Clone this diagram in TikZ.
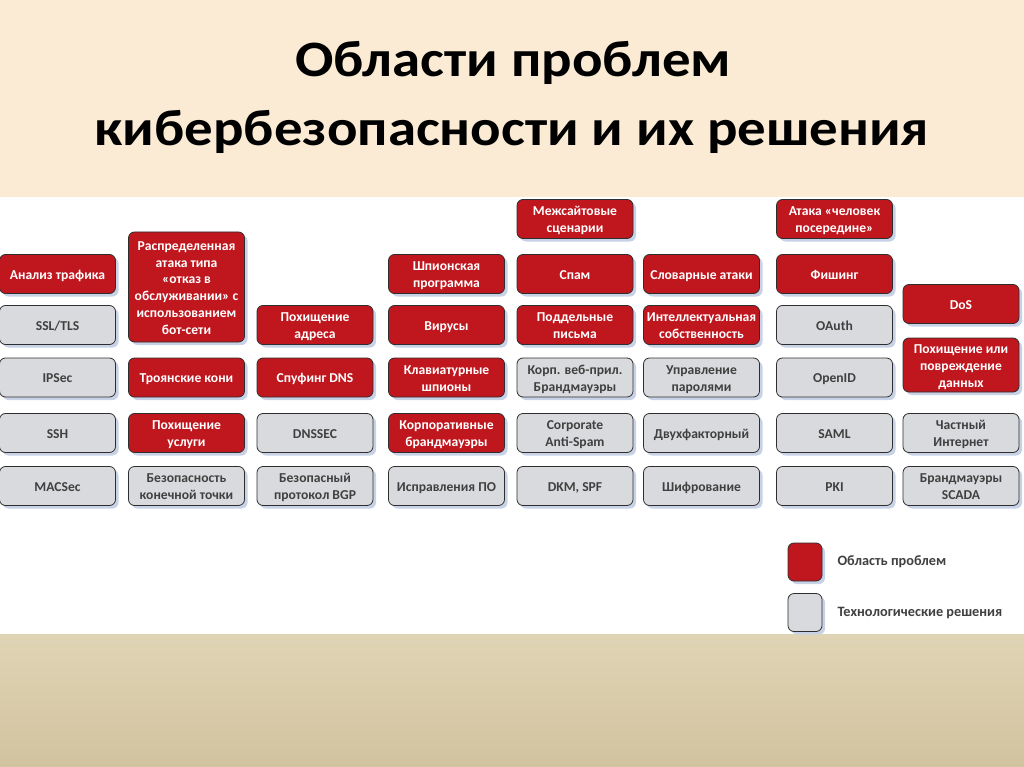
\documentclass[tikz,border=0pt]{standalone}
\usepackage{fontspec}
\usepackage{graphicx}
\setmainfont{Carlito}
\usetikzlibrary{shadows}
\definecolor{topbg}{HTML}{FBEBD4}
\definecolor{botA}{HTML}{DFD4B5}
\definecolor{botB}{HTML}{D2C39F}
\definecolor{probred}{HTML}{C0171F}
\definecolor{solgray}{HTML}{D9DADD}
\definecolor{soltext}{HTML}{404040}
\definecolor{boxline}{HTML}{2E2E2E}
\definecolor{shadowc}{HTML}{C8D2E6}
\newcommand\bt[1]{\raisebox{-2pt}[\height][\depth]{\begin{tabular}{@{}c@{}}#1\end{tabular}}}
\tikzset{
  box/.style={rounded corners=6pt, draw=boxline, line width=0.8pt,
    minimum width=116pt, minimum height=39pt, inner sep=1pt, align=center,
    font=\fontsize{13.6}{16.8}\selectfont\bfseries,
    drop shadow={shadow xshift=3pt, shadow yshift=-3pt, fill=shadowc, opacity=1}},
  prob/.style={box, fill=probred, text=white},
  sol/.style={box, fill=solgray, text=soltext},
  legbox/.style={rounded corners=6pt, draw=boxline, line width=0.8pt,
    minimum width=34pt, minimum height=38pt, inner sep=0pt,
    drop shadow={shadow xshift=3pt, shadow yshift=-3pt, fill=shadowc, opacity=1}},
  legtext/.style={anchor=west, text=soltext, font=\fontsize{14.3}{17}\selectfont\bfseries},
  titletext/.style={anchor=base, font=\fontsize{51}{69}\selectfont\bfseries}
}
\begin{document}
\begin{tikzpicture}[x=1pt,y=-1pt]
\useasboundingbox (0,0) rectangle (1024,767);
\fill[white] (0,0) rectangle (1024,767);
\fill[topbg] (0,0) rectangle (1024,197);
\shade[top color=botA, bottom color=botB] (0,634) rectangle (1024,767);

\node[titletext] (t1) at (513,77) {\scalebox{1.115}[1]{Области проблем}};
\node[titletext] (t2) at (512,146) {\scalebox{1.115}[1]{кибербезопасности и их решения}};

% column 1
\node[prob] (c1a) at (57.5,274) {\bt{Анализ трафика}};
\node[sol]  (c1b) at (57.5,325) {\bt{SSL/TLS}};
\node[sol]  (c1c) at (57.5,377.5) {\bt{IPSec}};
\node[sol]  (c1d) at (57.5,433) {\bt{SSH}};
\node[sol]  (c1e) at (57.5,486) {\bt{MACSec}};
% column 2
\node[prob, minimum height=110pt] (c2a) at (186.5,287) {\bt{Распределенная\\атака типа\\«отказ в\\обслуживании» с\\использованием\\бот-сети}};
\node[prob] (c2b) at (186.5,377.5) {\bt{Троянские кони}};
\node[prob] (c2c) at (186.5,433) {\bt{Похищение\\услуги}};
\node[sol]  (c2d) at (186.5,486) {\bt{Безопасность\\конечной точки}};
% column 3
\node[prob] (c3a) at (315,325) {\bt{Похищение\\адреса}};
\node[prob] (c3b) at (315,377.5) {\bt{Спуфинг DNS}};
\node[sol]  (c3c) at (315,433) {\bt{DNSSEC}};
\node[sol]  (c3d) at (315,486) {\bt{Безопасный\\протокол BGP}};
% column 4
\node[prob] (c4a) at (446.5,274) {\bt{Шпионская\\программа}};
\node[prob] (c4b) at (446.5,325) {\bt{Вирусы}};
\node[prob] (c4c) at (446.5,377.5) {\bt{Клавиатурные\\шпионы}};
\node[prob] (c4d) at (446.5,433) {\bt{Корпоративные\\брандмауэры}};
\node[sol]  (c4e) at (446.5,486) {\bt{Исправления ПО}};
% column 5
\node[prob] (c5a) at (575,219) {\bt{Межсайтовые\\сценарии}};
\node[prob] (c5b) at (575,274) {\bt{Спам}};
\node[prob] (c5c) at (575,325) {\bt{Поддельные\\письма}};
\node[sol]  (c5d) at (575,377.5) {\bt{Корп. веб-прил.\\Брандмауэры}};
\node[sol]  (c5e) at (575,433) {\bt{Corporate\\Anti-Spam}};
\node[sol]  (c5f) at (575,486) {\bt{DKM, SPF}};
% column 6
\node[prob] (c6a) at (701.5,274) {\bt{Словарные атаки}};
\node[prob] (c6b) at (701.5,325) {\bt{Интеллектуальная\\собственность}};
\node[sol]  (c6c) at (701.5,377.5) {\bt{Управление\\паролями}};
\node[sol]  (c6d) at (701.5,433) {\bt{Двухфакторный}};
\node[sol]  (c6e) at (701.5,486) {\bt{Шифрование}};
% column 7
\node[prob] (c7a) at (834.5,219) {\bt{Атака «человек\\посередине»}};
\node[prob] (c7b) at (834.5,274) {\bt{Фишинг}};
\node[sol]  (c7c) at (834.5,325) {\bt{OAuth}};
\node[sol]  (c7d) at (834.5,377.5) {\bt{OpenID}};
\node[sol]  (c7e) at (834.5,433) {\bt{SAML}};
\node[sol]  (c7f) at (834.5,486) {\bt{PKI}};
% column 8
\node[prob] (c8a) at (961,304) {\bt{DoS}};
\node[prob, minimum height=54pt] (c8b) at (961,365) {\bt{Похищение или\\повреждение\\данных}};
\node[sol]  (c8c) at (961,433) {\bt{Частный\\Интернет}};
\node[sol]  (c8d) at (961,486) {\bt{Брандмауэры\\SCADA}};

% legend
\node[legbox, fill=probred] (lg1) at (805,562) {};
\node[legbox, fill=solgray] (lg2) at (805,612.5) {};
\node[legtext] (lt1) at (834,562) {Область проблем};
\node[legtext] (lt2) at (834,612.5) {Технологические решения};
\end{tikzpicture}
\end{document}
